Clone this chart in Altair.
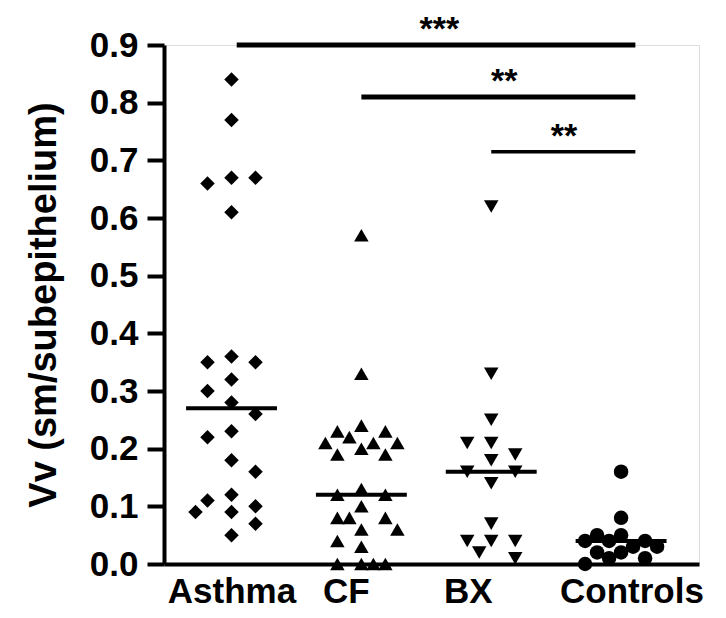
import altair as alt
import pandas as pd
import numpy as np

categories = ["Asthma", "CF", "BX", "Controls"]
shapes = ["diamond", "triangle-up", "triangle-down", "circle"]

asthma = [0.84, 0.77, 0.67, 0.66, 0.67, 0.61, 0.36, 0.35, 0.35, 0.32, 0.30, 0.28,
          0.26, 0.23, 0.22, 0.18, 0.16, 0.12, 0.11, 0.10, 0.09, 0.09, 0.07, 0.05]
cf = [0.57, 0.33, 0.24, 0.23, 0.23, 0.22, 0.21, 0.21, 0.21, 0.20, 0.19, 0.19, 0.13,
      0.12, 0.12, 0.10, 0.08, 0.08, 0.08, 0.06, 0.06, 0.04, 0.03, 0.0, 0.0, 0.0, 0.0]
bx = [0.62, 0.33, 0.25, 0.21, 0.21, 0.19, 0.18, 0.16, 0.16, 0.14, 0.07, 0.04, 0.04,
      0.04, 0.02, 0.01]
controls = [0.16, 0.08, 0.05, 0.05, 0.04, 0.04, 0.04, 0.03, 0.03, 0.02, 0.02, 0.01,
            0.01, 0.0]
medians = [0.27, 0.12, 0.16, 0.04]

sig_start = [0.04, 1.0, 2.0]
sig_end = [3.11, 3.11, 3.11]
sig_y = [0.90, 0.81, 0.715]
sig_text = ["***", "**", "**"]
sig_text_x = [1.6, 2.1, 2.56]

label_pos = [0.0, 0.88, 1.82, 3.08]

W, H = 535, 519
x_dom = [-0.52, 3.6]
y_dom = [0, 0.9]
px_x = W / (x_dom[1] - x_dom[0])
px_y = H / (y_dom[1] - y_dom[0])


def swarm(values, bw=20.0, bh=15.0):
    placed = []
    offs = []
    base = [-24.0, 24.0, -12.0, 12.0, -36.0, 36.0]
    flip = False
    for v in values:
        yp = v * px_y
        order = [0.0] + ([-c for c in base] if flip else base)

        def hits(c):
            return sum(1 for px, py in placed if abs(c - px) < bw and abs(yp - py) < bh)

        def clearance(c):
            ds = [np.hypot(c - px, yp - py) for px, py in placed]
            return min(ds) if ds else 1e9

        free = [c for c in order if hits(c) == 0]
        if free:
            chosen = free[0]
        else:
            chosen = max(order, key=clearance)
        if chosen != 0.0:
            flip = not flip
        placed.append((chosen, yp))
        offs.append(chosen / px_x)
    return offs


rows = []
for i, (name, vals) in enumerate(zip(categories, [asthma, cf, bx, controls])):
    for v, o in zip(vals, swarm(vals)):
        rows.append({"group": name, "value": v, "x": i + o})
pts = pd.DataFrame(rows)

med = pd.DataFrame({"group": categories, "median": medians,
                    "x1": [i - 0.35 for i in range(4)],
                    "x2": [i + 0.35 for i in range(4)]})

sig = pd.DataFrame({"x1": sig_start, "x2": sig_end, "y": sig_y,
                    "t": sig_text, "tx": sig_text_x,
                    "w": [5, 5, 3.5]})

FONT = "Liberation Sans"

label_expr = ("datum.value < 0.5 ? 'Asthma' : datum.value < 1.5 ? 'CF' : "
              "datum.value < 2.5 ? 'BX' : 'Controls'")

xscale = alt.Scale(domain=x_dom, nice=False, zero=False)
yscale = alt.Scale(domain=y_dom, nice=False)

xaxis = alt.Axis(values=label_pos, labelExpr=label_expr, ticks=False, grid=False,
                 title=None, labelFont=FONT, labelFontWeight="bold", labelFontSize=35,
                 labelColor="black", labelPadding=10, domainColor="black",
                 domainWidth=4, labelFlush=False, labelOverlap=False)
yaxis = alt.Axis(values=[round(0.1 * k, 1) for k in range(10)], format=".1f",
                 grid=False, title="Vv  (sm/subepithelium)", titleFont=FONT,
                 titleFontWeight="bold", titleFontSize=38, titleColor="black",
                 titlePadding=26, labelFont=FONT, labelFontWeight="bold",
                 labelFontSize=35, labelColor="black", labelPadding=9,
                 tickSize=17, tickWidth=4, tickColor="black", domainColor="black",
                 domainWidth=4, labelFlush=False)

points = alt.Chart(pts).mark_point(filled=True, size=210, opacity=1, color="black").encode(
    x=alt.X("x:Q", scale=xscale, axis=xaxis),
    y=alt.Y("value:Q", scale=yscale, axis=yaxis),
    shape=alt.Shape("group:N", scale=alt.Scale(domain=categories, range=shapes),
                    legend=None),
)

medl = alt.Chart(med).mark_rule(color="black", strokeWidth=4).encode(
    x=alt.X("x1:Q", scale=xscale), x2="x2:Q",
    y=alt.Y("median:Q", scale=yscale),
)

sigl = alt.Chart(sig).mark_rule(color="black").encode(
    x=alt.X("x1:Q", scale=xscale), x2="x2:Q",
    y=alt.Y("y:Q", scale=yscale),
    strokeWidth=alt.StrokeWidth("w:Q", scale=None),
)

sigt = alt.Chart(sig).mark_text(font=FONT, fontWeight="bold", fontSize=34,
                                baseline="bottom", dy=2, color="black",
                                clip=False).encode(
    x=alt.X("tx:Q", scale=xscale), y=alt.Y("y:Q", scale=yscale), text="t:N",
)

chart = alt.layer(sigl, sigt, medl, points).properties(
    width=W, height=H,
    autosize=alt.AutoSizeParams(type="none"),
    padding={"left": 164, "top": 45, "right": 27, "bottom": 54},
).configure_view(stroke=None).configure(background="white")

chart.save("out.html", embed_options={"renderer": "svg", "actions": False})
